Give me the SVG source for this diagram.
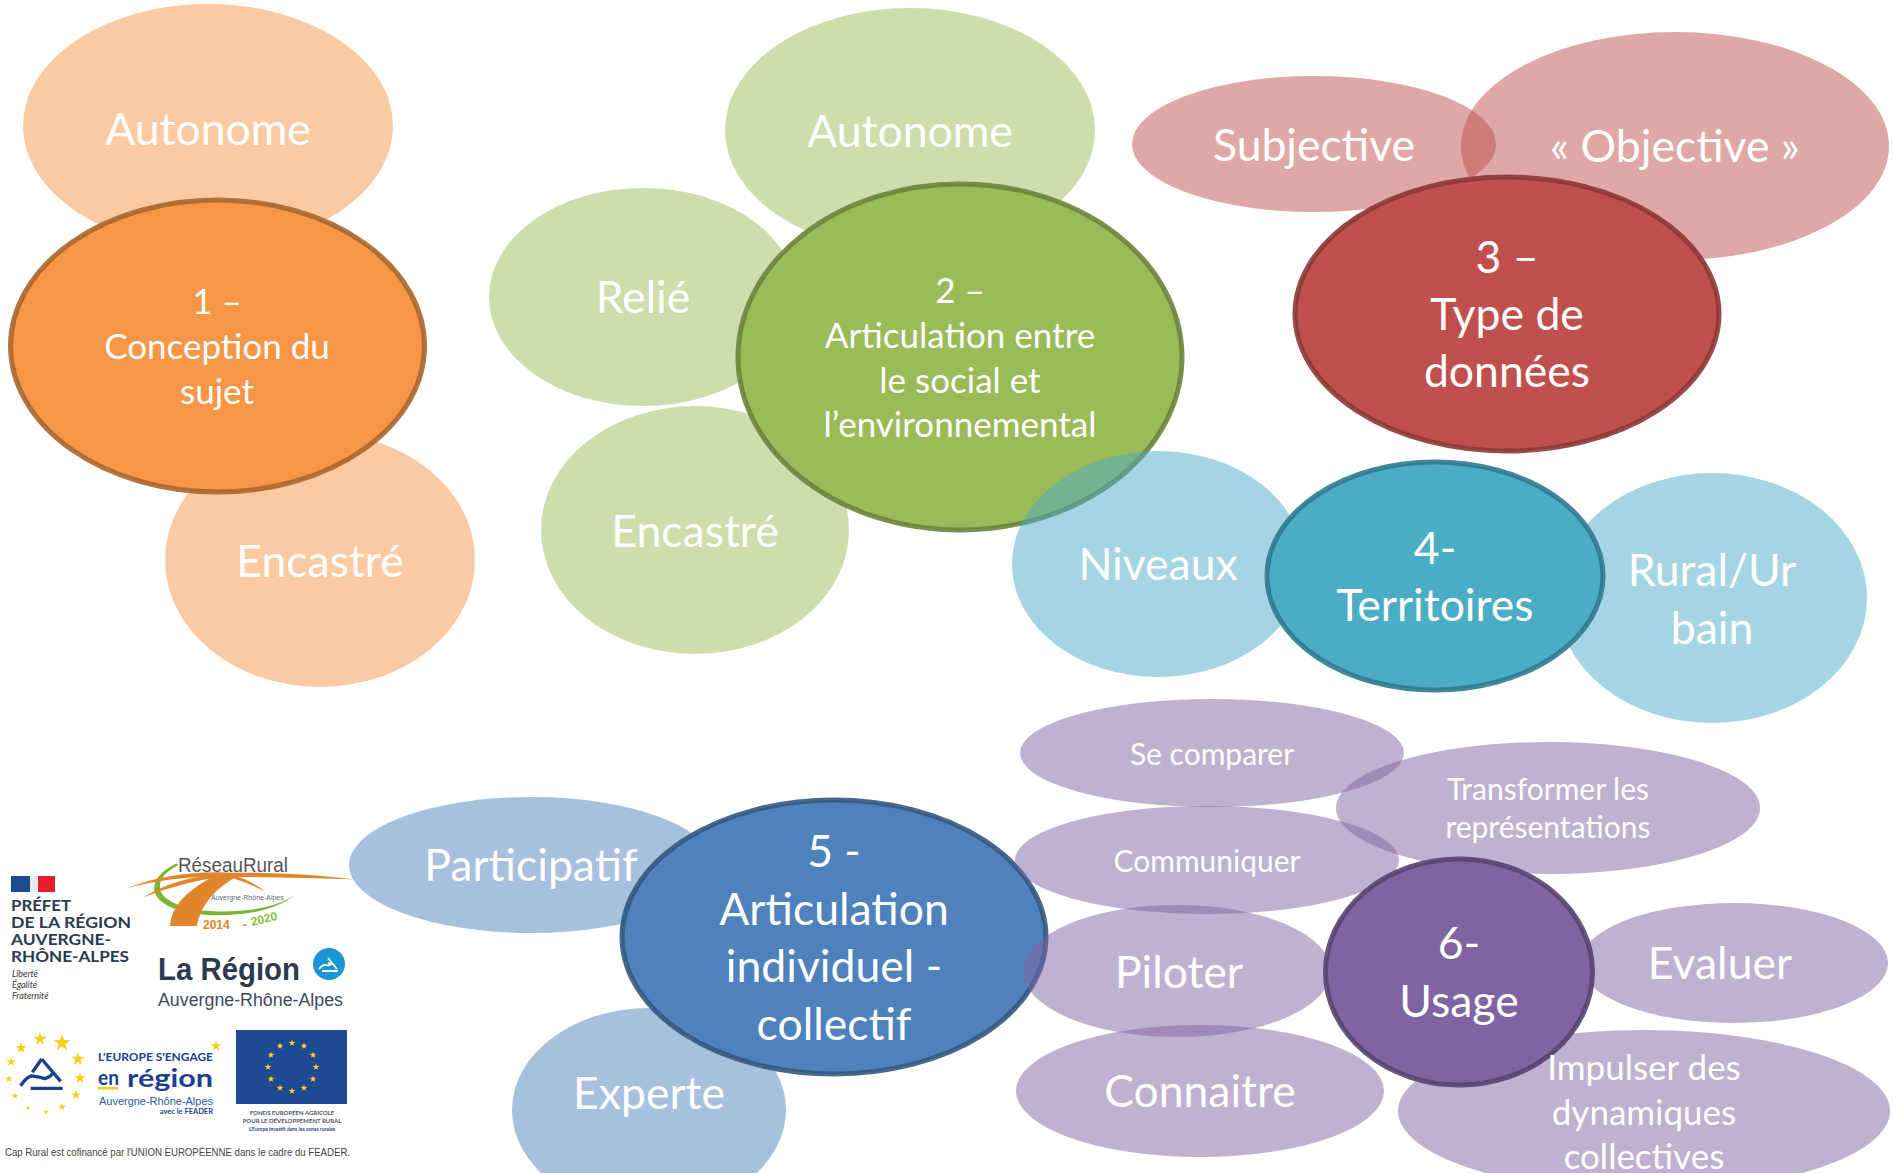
<svg xmlns="http://www.w3.org/2000/svg" width="1893" height="1173" viewBox="0 0 1893 1173">
<style>
text{font-family:"Lato","Carlito","Open Sans",sans-serif}
.t{fill:#fff;text-anchor:middle}
.xl{font-size:44.500px}.m{font-size:35px}.s{font-size:30px}
.o{fill:#F79646}.g{fill:#9BBB59}.r{fill:#C0504D}.b{fill:#4BACC6}.n{fill:#4F81BD}.p{fill:#8064A2}
.lt{fill-opacity:.5}
.main{stroke-width:5;stroke-opacity:.9}
.lg{font-family:"Liberation Sans",Arial,sans-serif}
.nv{fill:#2b3a4e}.eu{fill:#1d4a93}.gold{fill:#f6d21f}
</style>
<defs><polygon id="star" points="0,-1 .235,-.324 .951,-.309 .38,.124 .588,.809 0,.4 -.588,.809 -.38,.124 -.951,-.309 -.235,-.324"/></defs>
<rect width="1893" height="1173" fill="#fff"/>
<g id="connectors"></g>
<g id="n1a"><ellipse class="o lt" cx="208" cy="126" rx="185" ry="122"/><text class="t xl" x="208" y="145">Autonome</text></g>
<g id="n1b"><ellipse class="o lt" cx="320" cy="560" rx="155" ry="127"/><text class="t xl" x="320" y="577">Encastré</text></g>
<g id="n1"><ellipse class="o main" stroke="#A9662F" cx="217.500" cy="346" rx="207" ry="146"/><text class="t m"><tspan x="217" y="314">1 –</tspan><tspan x="217" y="359">Conception du</tspan><tspan x="217" y="404">sujet</tspan></text></g>
<g id="n2a"><ellipse class="g lt" cx="910" cy="130" rx="185" ry="122"/><text class="t xl" x="910" y="147">Autonome</text></g>
<g id="n2b"><ellipse class="g lt" cx="643" cy="297" rx="154" ry="109"/><text class="t xl" x="643" y="313">Relié</text></g>
<g id="n2c"><ellipse class="g lt" cx="695" cy="530" rx="154" ry="124"/><text class="t xl" x="695" y="547">Encastré</text></g>
<g id="n2"><ellipse class="g main" stroke="#6C843C" cx="960" cy="357" rx="222" ry="173"/><text class="t m"><tspan x="960" y="303">2 –</tspan><tspan x="960" y="348">Articulation entre</tspan><tspan x="960" y="393">le social et</tspan><tspan x="960" y="437">l’environnemental</tspan></text></g>
<g id="n3a"><ellipse class="r lt" cx="1314" cy="144" rx="182" ry="68"/><text class="t xl" x="1314" y="161">Subjective</text></g>
<g id="n3b"><ellipse class="r lt" cx="1675" cy="146" rx="214" ry="114"/><text class="t xl" x="1675" y="162">« Objective »</text></g>
<g id="n3"><ellipse class="r main" stroke="#8C3836" cx="1507" cy="314" rx="212" ry="137"/><text class="t xl"><tspan x="1507" y="273">3 –</tspan><tspan x="1507" y="330">Type de</tspan><tspan x="1507" y="387">données</tspan></text></g>
<g id="n4a"><ellipse class="b lt" cx="1158" cy="564" rx="146" ry="113"/><text class="t xl" x="1158" y="580">Niveaux</text></g>
<g id="n4b"><ellipse class="b lt" cx="1712" cy="598" rx="155" ry="125"/><text class="t xl"><tspan x="1712" y="586">Rural/Ur</tspan><tspan x="1712" y="644">bain</tspan></text></g>
<g id="n4"><ellipse class="b main" stroke="#2F7A90" cx="1435" cy="576" rx="168" ry="114"/><text class="t xl"><tspan x="1435" y="564">4-</tspan><tspan x="1435" y="621">Territoires</tspan></text></g>
<g id="n5a"><ellipse class="n lt" cx="531" cy="865" rx="182" ry="68"/><text class="t xl" x="531" y="881">Participatif</text></g>
<g id="n5b"><ellipse class="n lt" cx="649" cy="1110" rx="137" ry="102"/><text class="t xl" x="649" y="1109">Experte</text></g>
<g id="n5"><ellipse class="n main" stroke="#34587F" cx="834" cy="937" rx="212" ry="137"/><text class="t xl"><tspan x="834" y="867">5 -</tspan><tspan x="834" y="925">Articulation</tspan><tspan x="834" y="982">individuel -</tspan><tspan x="834" y="1040">collectif</tspan></text></g>
<g id="n6a"><ellipse class="p lt" cx="1212" cy="753" rx="192" ry="54"/><text class="t s" x="1212" y="765">Se comparer</text></g>
<g id="n6b"><ellipse class="p lt" cx="1548" cy="808" rx="212" ry="66"/><text class="t s"><tspan x="1548" y="800">Transformer les</tspan><tspan x="1548" y="838">représentations</tspan></text></g>
<g id="n6c"><ellipse class="p lt" cx="1207" cy="860" rx="192" ry="54"/><text class="t s" x="1207" y="872">Communiquer</text></g>
<g id="n6d"><ellipse class="p lt" cx="1177" cy="971" rx="154" ry="66"/><text class="t xl" x="1179" y="988">Piloter</text></g>
<g id="n6e"><ellipse class="p lt" cx="1200" cy="1091" rx="184" ry="66"/><text class="t xl" x="1200" y="1107">Connaitre</text></g>
<g id="n6f"><ellipse class="p lt" cx="1734" cy="963" rx="154" ry="60"/><text class="t xl" x="1720" y="979">Evaluer</text></g>
<g id="n6g"><ellipse class="p lt" cx="1644" cy="1111" rx="246" ry="81"/></g>
<g id="n6"><ellipse class="p main" stroke="#57436F" cx="1459" cy="972" rx="133.500" ry="113"/><text class="t xl"><tspan x="1459" y="959">6-</tspan><tspan x="1459" y="1017">Usage</tspan></text></g>
<text class="t m"><tspan x="1644" y="1080">Impulser des</tspan><tspan x="1644" y="1125">dynamiques</tspan><tspan x="1644" y="1169">collectives</tspan></text>
<g id="logo-prefet">
<rect x="11" y="876" width="19" height="16" fill="#1f4b91"/><rect x="30" y="876" width="8" height="16" fill="#e8eaf0"/><rect x="38" y="876" width="17" height="16" fill="#e3202b"/>
<g class="lg nv" font-weight="700" font-size="16px"><text x="11" y="911" textLength="60" lengthAdjust="spacingAndGlyphs">PRÉFET</text><text x="11" y="928" textLength="120" lengthAdjust="spacingAndGlyphs">DE LA RÉGION</text><text x="11" y="945" textLength="100" lengthAdjust="spacingAndGlyphs">AUVERGNE-</text><text x="11" y="962" textLength="118" lengthAdjust="spacingAndGlyphs">RHÔNE-ALPES</text></g>
<g style="font-family:'Liberation Serif',serif" font-style="italic" font-size="9px" fill="#333"><text x="12" y="977">Liberté</text><text x="12" y="988">Égalité</text><text x="12" y="999">Fraternité</text></g>
</g>
<g id="logo-reseau">
<g transform="translate(0 840) scale(.3333)">
<path d="M530 70Q450 110 465 160Q490 215 620 225Q800 232 885 165Q800 220 640 214Q510 205 482 155Q468 110 535 75Z" fill="#7ab434"/>
<path d="M380 145Q520 90 700 98Q900 98 1060 118Q880 112 700 110Q520 105 380 145Z" fill="#e2852a"/>
<path d="M430 172Q530 110 660 104L660 112Q550 125 430 172Z" fill="#e2852a"/>
<path d="M510 258Q515 170 650 105L720 105Q610 160 590 258Z" fill="#e2852a"/>
<path d="M700 105Q760 125 795 155Q750 130 690 112Z" fill="#e2852a"/>
</g>
<text x="178" y="872" font-size="20" fill="#555" class="lg" textLength="110" lengthAdjust="spacingAndGlyphs">RéseauRural</text>
<text x="211" y="900" font-size="7" fill="#667" class="lg">Auvergne-Rhône-Alpes</text>
<text x="203" y="929" font-size="12" font-weight="700" fill="#e2852a" class="lg">2014</text><text x="243" y="929" font-size="12" fill="#e2852a" font-weight="700" class="lg">-</text><text x="252" y="926" font-size="12" font-weight="700" fill="#8dbb3d" class="lg" transform="rotate(-14 252 926)">2020</text>
</g>
<g id="logo-region">
<text x="158" y="980" class="lg nv" font-size="32" font-weight="700" textLength="142" lengthAdjust="spacingAndGlyphs">La Région</text>
<text x="158" y="1006" class="lg" fill="#3c4a5a" font-size="17.500" textLength="185" lengthAdjust="spacingAndGlyphs">Auvergne-Rhône-Alpes</text>
<circle cx="329" cy="964" r="16" fill="#1b95d6"/>
<path d="M319 969q4-5 7-4t5-1l-3-1M328 958l9 11M322 971h16" fill="none" stroke="#fff" stroke-width="1.800"/>
</g>
<g id="logo-europe">
<g class="gold">
<use href="#star" transform="translate(40 1039) scale(7)"/><use href="#star" transform="translate(62 1043) scale(9)"/><use href="#star" transform="translate(21 1048) scale(6)"/><use href="#star" transform="translate(11 1062) scale(5)"/><use href="#star" transform="translate(9 1079) scale(4)"/><use href="#star" transform="translate(15 1096) scale(3.500)"/><use href="#star" transform="translate(28 1108) scale(2.500)"/><use href="#star" transform="translate(46 1112) scale(3)"/><use href="#star" transform="translate(62 1107) scale(4)"/><use href="#star" transform="translate(76 1095) scale(5)"/><use href="#star" transform="translate(80 1078) scale(6)"/><use href="#star" transform="translate(78 1059) scale(7)"/><use href="#star" transform="translate(216 1046) scale(5.500)"/>
</g>
<g transform="translate(0 840) scale(.3333)" fill="none" stroke="#1d3f8f" stroke-width="10">
<path d="M125 657L182 724M125 657L97 697M62 738Q78 712 95 708Q120 712 135 716Q150 712 158 700M92 745H188"/>
</g>
<g class="lg" fill="#1d3f8f" font-weight="700">
<text x="98" y="1061" font-size="11.500" textLength="115" lengthAdjust="spacingAndGlyphs">L'EUROPE S'ENGAGE</text>
<text x="98" y="1085" font-size="20" textLength="21" lengthAdjust="spacingAndGlyphs">en</text>
<text x="127" y="1087" font-size="25.500" textLength="86" lengthAdjust="spacingAndGlyphs">région</text>
<text x="213" y="1114" font-size="7.500" text-anchor="end">avec le FEADER</text>
</g>
<rect x="98" y="1087" width="20" height="2.500" fill="#f2cf1d"/>
<text x="99" y="1105" class="lg" fill="#2c5aa0" font-size="11" textLength="114" lengthAdjust="spacingAndGlyphs">Auvergne-Rhône-Alpes</text>
</g>
<g id="logo-eu">
<rect x="236" y="1030" width="111" height="74" class="eu"/>
<g class="gold">
<use href="#star" transform="translate(292 1043) scale(3.500)"/><use href="#star" transform="translate(304 1046) scale(3.500)"/><use href="#star" transform="translate(313 1055) scale(3.500)"/><use href="#star" transform="translate(316 1067) scale(3.500)"/><use href="#star" transform="translate(313 1079) scale(3.500)"/><use href="#star" transform="translate(304 1088) scale(3.500)"/><use href="#star" transform="translate(292 1091) scale(3.500)"/><use href="#star" transform="translate(280 1088) scale(3.500)"/><use href="#star" transform="translate(271 1079) scale(3.500)"/><use href="#star" transform="translate(268 1067) scale(3.500)"/><use href="#star" transform="translate(271 1055) scale(3.500)"/><use href="#star" transform="translate(280 1046) scale(3.500)"/>
</g>
<g class="lg" text-anchor="middle" font-weight="700" fill="#4a5568" font-size="6"><text x="292" y="1115">FONDS EUROPÉEN AGRICOLE</text><text x="292" y="1123">POUR LE DÉVELOPPEMENT RURAL</text><text x="292" y="1131" font-size="5" fill="#1d3f8f">L'Europe investit dans les zones rurales</text></g>
</g>
<text id="logo-cap" x="5" y="1156" class="lg" fill="#444" font-size="11" textLength="345" lengthAdjust="spacingAndGlyphs">Cap Rural est cofinancé par l'UNION EUROPÉENNE dans le cadre du FEADER.</text>
</svg>
